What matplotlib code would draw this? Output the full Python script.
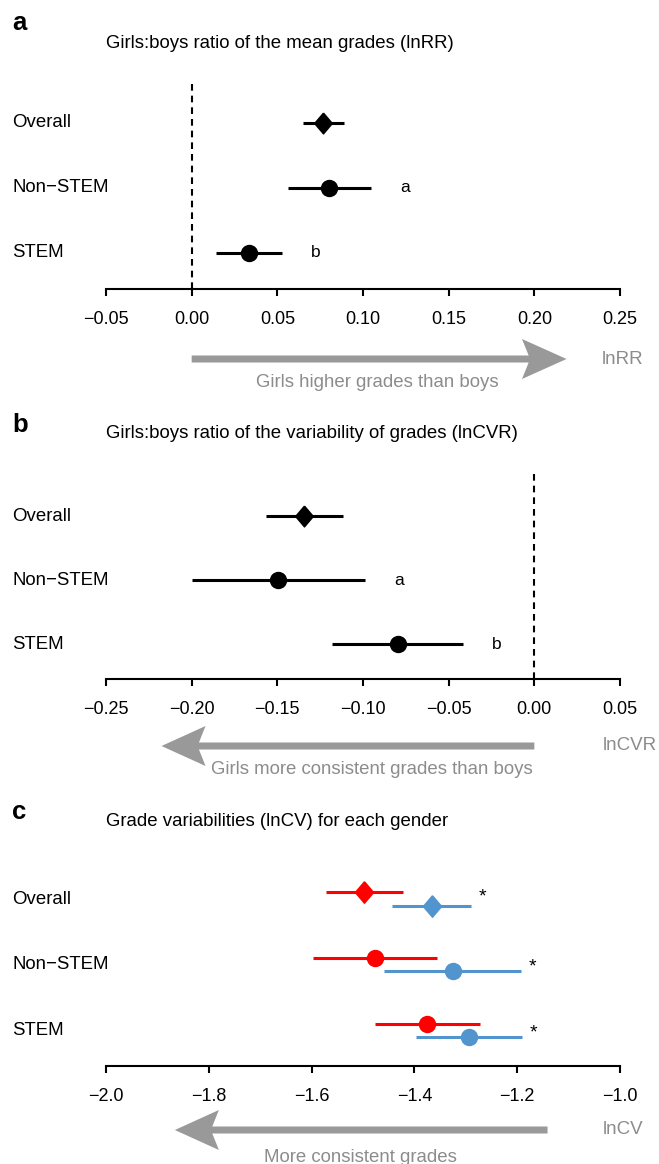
import numpy as np
import matplotlib
matplotlib.use('Agg')
import matplotlib.pyplot as plt
import matplotlib.transforms as mtrans
from matplotlib.patches import FancyArrow

plt.rcParams['font.family'] = ['Liberation Sans', 'DejaVu Sans']

# ---- data ----
rows = ['Overall', 'Non\u2212STEM', 'STEM']
row_pos = [3, 2, 1]

# panel a: lnRR
rr_mean = [0.0768, 0.0802, 0.0335]
rr_lo = [0.0647, 0.0564, 0.0142]
rr_hi = [0.0892, 0.1045, 0.0525]
rr_letters = ['', 'a', 'b']
rr_ticks = [-0.05, 0.00, 0.05, 0.10, 0.15, 0.20, 0.25]
rr_ticklabels = ['\u22120.05', '0.00', '0.05', '0.10', '0.15', '0.20', '0.25']

# panel b: lnCVR
cvr_mean = [-0.1345, -0.1494, -0.0796]
cvr_lo = [-0.1569, -0.1997, -0.1180]
cvr_hi = [-0.1117, -0.0991, -0.0417]
cvr_letters = ['', 'a', 'b']
cvr_ticks = [-0.25, -0.20, -0.15, -0.10, -0.05, 0.00, 0.05]
cvr_ticklabels = ['\u22120.25', '\u22120.20', '\u22120.15', '\u22120.10',
                  '\u22120.05', '0.00', '0.05']

# panel c: lnCV per gender
girls_mean = [-1.4975, -1.4767, -1.3750]
girls_lo = [-1.5720, -1.5966, -1.4767]
girls_hi = [-1.4216, -1.3567, -1.2724]
boys_mean = [-1.3664, -1.3255, -1.2938]
boys_lo = [-1.4440, -1.4585, -1.3970]
boys_hi = [-1.2905, -1.1920, -1.1900]
cv_stars = ['*', '*', '*']
cv_ticks = [-2.0, -1.8, -1.6, -1.4, -1.2, -1.0]
cv_ticklabels = ['\u22122.0', '\u22121.8', '\u22121.6', '\u22121.4', '\u22121.2', '\u22121.0']

RED = '#FF0000'
BLUE = '#5294CE'
GREY = '#999999'
GREY_TXT = '#8c8c8c'

W, H = 659, 1164
fig = plt.figure(figsize=(W / 100, H / 100), dpi=100)


def fx(x):
    return x / W


def fy(y):
    return 1 - y / H


diamond = [(0, 1), (0.85, 0), (0, -1), (-0.85, 0), (0, 1)]


def make_ax(top, bottom, xlim, ylim, ticks, labels):
    ax = fig.add_axes([fx(106), fy(bottom), fx(620) - fx(106), (bottom - top) / H])
    ax.set_xlim(xlim)
    ax.set_ylim(ylim)
    for s in ['top', 'left', 'right']:
        ax.spines[s].set_visible(False)
    ax.spines['bottom'].set_linewidth(1.5)
    ax.set_yticks([])
    ax.set_xticks(ticks)
    ax.set_xticklabels(labels, fontsize=13)
    ax.tick_params(axis='x', direction='out', length=5, width=1.5, pad=11)
    ax.patch.set_visible(False)
    return ax


def row_labels(ax, ys):
    tr = mtrans.blended_transform_factory(fig.transFigure, ax.transData)
    for name, y in zip(rows, ys):
        ax.text(fx(12), y, name, transform=tr, ha='left', va='center',
                fontsize=13.4, clip_on=False)


def forest(ax, ys, mean, lo, hi, color, ms_c=11.5, ms_d=15):
    ax.hlines(ys, lo, hi, color=color, lw=2.2, clip_on=False)
    ax.plot(mean[:1], ys[:1], marker=diamond, ms=ms_d, color=color, ls='none',
            clip_on=False)
    ax.plot(mean[1:], ys[1:], marker='o', ms=ms_c, color=color, ls='none',
            clip_on=False)


def arrow(ax, x0, x1, y, head_len):
    tr = mtrans.blended_transform_factory(ax.transData, fig.transFigure)
    a = FancyArrow(x0, fy(y), x1 - x0, 0, width=7 / H, head_width=40 / H,
                   head_length=head_len, length_includes_head=True,
                   overhang=0.15, transform=tr, color=GREY, lw=0,
                   clip_on=False)
    fig.add_artist(a)


# ---- panel a ----
axa = make_ax(82, 289, (-0.05, 0.25), (0.447, 3.625), rr_ticks, rr_ticklabels)
axa.axvline(0, color='black', lw=1.5, ls=(0, (3.2, 2.4)))
forest(axa, row_pos, rr_mean, rr_lo, rr_hi, 'black')
for y, h, t in zip(row_pos, rr_hi, rr_letters):
    axa.text(h + 0.02, y, t, ha='center', va='center', fontsize=12.5)
row_labels(axa, row_pos)
arrow(axa, 0.0, 0.2188, 359, 0.026)
fig.text(fx(602), fy(360), 'lnRR', ha='left', va='center', fontsize=13.5, color=GREY_TXT)
fig.text(fx(377), fy(383), 'Girls higher grades than boys', ha='center', va='center',
         fontsize=13.4, color=GREY_TXT)
fig.text(fx(106), fy(43), 'Girls:boys ratio of the mean grades (lnRR)', ha='left',
         va='center', fontsize=13.4)
fig.text(fx(12), fy(23), 'a', ha='left', va='center', fontsize=18.5, fontweight='bold')

# ---- panel b ----
axb = make_ax(472, 679, (-0.25, 0.05), (0.453, 3.69), cvr_ticks, cvr_ticklabels)
axb.axvline(0, color='black', lw=1.5, ls=(0, (3.2, 2.4)))
forest(axb, row_pos, cvr_mean, cvr_lo, cvr_hi, 'black')
for y, h, t in zip(row_pos, cvr_hi, cvr_letters):
    axb.text(h + 0.02, y, t, ha='center', va='center', fontsize=12.5)
row_labels(axb, row_pos)
arrow(axb, 0.0, -0.2176, 746, 0.0257)
fig.text(fx(603), fy(746), 'lnCVR', ha='left', va='center', fontsize=13.5, color=GREY_TXT)
fig.text(fx(372), fy(769), 'Girls more consistent grades than boys', ha='center',
         va='center', fontsize=13.4, color=GREY_TXT)
fig.text(fx(106), fy(433), 'Girls:boys ratio of the variability of grades (lnCVR)',
         ha='left', va='center', fontsize=13.4)
fig.text(fx(12), fy(425), 'b', ha='left', va='center', fontsize=18.5, fontweight='bold')

# ---- panel c ----
axc = make_ax(850, 1066, (-2.0, -1.0), (0.456, 3.75), cv_ticks, cv_ticklabels)
off = 0.102
ys_g = [p + off for p in row_pos]
ys_b = [p - off for p in row_pos]
forest(axc, ys_g, girls_mean, girls_lo, girls_hi, RED, ms_c=11.5, ms_d=15.5)
forest(axc, ys_b, boys_mean, boys_lo, boys_hi, BLUE, ms_c=11.5, ms_d=15.5)
star_dy = [0.08, 0.0, 0.0]
for y, h, t, dy in zip(row_pos, boys_hi, cv_stars, star_dy):
    axc.text(h + 0.022, y + dy - 0.04, t, ha='center', va='center', fontsize=14)
row_labels(axc, row_pos)
arrow(axc, -1.141, -1.866, 1130, 0.0856)
fig.text(fx(603), fy(1130), 'lnCV', ha='left', va='center', fontsize=13.5, color=GREY_TXT)
fig.text(fx(360), fy(1157), 'More consistent grades', ha='center', va='center',
         fontsize=13.4, color=GREY_TXT)
fig.text(fx(106), fy(822), 'Grade variabilities (lnCV) for each gender', ha='left',
         va='center', fontsize=13.4)
fig.text(fx(12), fy(812), 'c', ha='left', va='center', fontsize=18.5, fontweight='bold')

fig.savefig('out.png', dpi=100)
